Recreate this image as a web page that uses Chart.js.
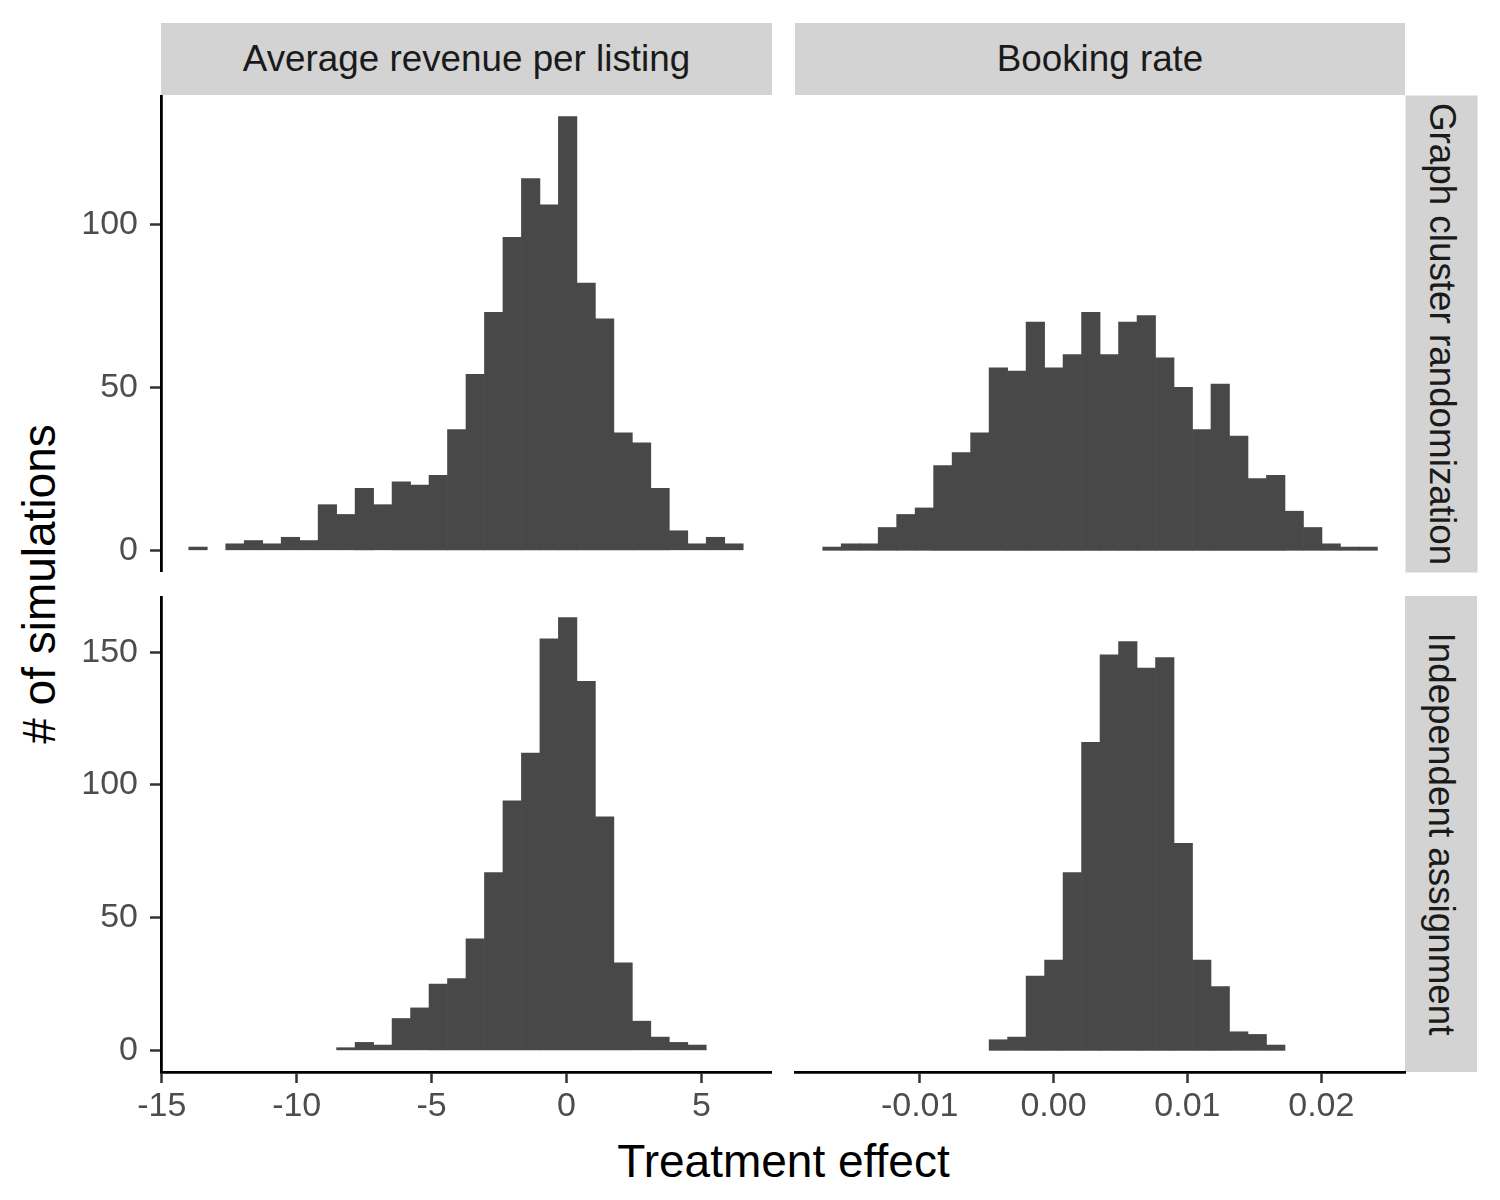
<!DOCTYPE html>
<html>
<head>
<meta charset="utf-8">
<script src="https://cdn.jsdelivr.net/npm/chart.js@4.4.1/dist/chart.umd.min.js"></script>
<style>
  html, body { margin: 0; padding: 0; background: #fff; }
  body { width: 1500px; height: 1200px; position: relative; overflow: hidden;
         font-family: "Liberation Sans", Arial, Helvetica, sans-serif; }
  canvas { position: absolute; }
  .strip { position: absolute; background: #d3d3d3; color: #1a1a1a; font-size: 36.8px; line-height: 36px;
           display: flex; align-items: center; justify-content: center; white-space: nowrap; }
  .title { position: absolute; color: #000; font-size: 46px; line-height: 46px;
           display: flex; align-items: center; justify-content: center; white-space: nowrap; }
</style>
</head>
<body>

<div class="strip" style="left:161px; top:23px; width:611px; height:72px;">Average revenue per listing</div>
<div class="strip" style="left:795px; top:23px; width:610px; height:72px;">Booking rate</div>
<div class="strip" style="left:1202.5px; top:297.5px; width:477px; height:72px; transform:rotate(90deg);">Graph cluster randomization</div>
<div class="strip" style="left:1203px; top:798px; width:476px; height:72px; transform:rotate(90deg);">Independent assignment</div>

<div class="title" style="left:383.5px; top:1137.5px; width:800px; height:46px;">Treatment effect</div>
<div class="title" style="left:-261.5px; top:561px; width:600px; height:46px; transform:rotate(-90deg);"># of simulations</div>

<canvas id="tl" width="775" height="477" style="left:0px; top:95px;"></canvas>
<canvas id="tr" width="635" height="477" style="left:775px; top:95px;"></canvas>
<canvas id="bl" width="775" height="538" style="left:0px; top:596px;"></canvas>
<canvas id="br" width="635" height="538" style="left:775px; top:596px;"></canvas>

<script>
// histogram bins: 30 bins per column, counts
const revenueBinStart = -14.0;
const revenueBinWidth = 0.685;
const bookingBinStart = -0.01724;
const bookingBinWidth = 0.001381;

const revenueCluster = [1, 0, 2, 3, 2, 4, 3, 14, 11, 19, 14, 21, 20, 23, 37,
                        54, 73, 96, 114, 106, 133, 82, 71, 36, 33, 19, 6, 2, 4, 2];
const revenueIndependent = [0, 0, 0, 0, 0, 0, 0, 0, 1, 3, 2, 12, 16, 25, 27,
                            42, 67, 94, 112, 155, 163, 139, 88, 33, 11, 5, 3, 2, 0, 0];
const bookingCluster = [1, 2, 2, 7, 11, 13, 26, 30, 36, 56, 55, 70, 56, 60, 73,
                        60, 70, 72, 59, 50, 37, 51, 35, 22, 23, 12, 7, 2, 1, 1];
const bookingIndependent = [0, 0, 0, 0, 0, 0, 0, 0, 0, 4, 5, 28, 34, 67, 116,
                            149, 154, 144, 148, 78, 34, 24, 7, 6, 2, 0, 0, 0, 0, 0];

const revenueTicks = [-15, -10, -5, 0, 5];
const bookingTicks = [-0.01, 0, 0.01, 0.02];
const clusterCountTicks = [0, 50, 100];
const independentCountTicks = [0, 50, 100, 150];

const revenueLimits = [-15.03, 7.58];
const bookingLimits = [-0.01931, 0.02625];
const clusterCountLimits = [-6.65, 139.65];
const independentCountLimits = [-8.15, 171.15];

const barColor = '#484848';
const tickText = '#4d4d4d';
const fontFamily = '"Liberation Sans", Arial, Helvetica, sans-serif';

function toPoints(counts, start, width) {
  const pts = [];
  counts.forEach((c, i) => {
    if (c > 0) pts.push({ x: start + (i + 0.5) * width, y: c });
  });
  return pts;
}

function setTicks(values) {
  return scale => { scale.ticks = values.map(v => ({ value: v })); };
}

function drawPanel(id, cfg) {
  const ctx = document.getElementById(id).getContext('2d');
  return new Chart(ctx, {
    type: 'bar',
    data: {
      datasets: [{
        data: toPoints(cfg.counts, cfg.binStart, cfg.binWidth),
        backgroundColor: barColor,
        borderWidth: 0,
        barPercentage: 1,
        categoryPercentage: 1
      }]
    },
    options: {
      responsive: false,
      animation: false,
      events: [],
      layout: { padding: cfg.padding },
      plugins: { legend: { display: false }, tooltip: { enabled: false } },
      scales: {
        x: {
          type: 'linear',
          display: cfg.showX,
          min: cfg.xLimits[0],
          max: cfg.xLimits[1],
          offset: false,
          afterBuildTicks: setTicks(cfg.xTicks),
          afterFit: s => {
            if (cfg.showX) s.height = 62;
            s.paddingLeft = 0; s.paddingRight = 0;
          },
          border: { display: true, color: '#000', width: 2.8 },
          grid: { display: true, offset: false, drawOnChartArea: false, drawTicks: true,
                  tickLength: 11, tickColor: '#333', tickWidth: 2.5 },
          ticks: {
            autoSkip: false, maxRotation: 0, padding: 3, color: tickText,
            font: { family: fontFamily, size: 34 },
            callback: cfg.xFormat
          }
        },
        y: {
          display: cfg.showY,
          min: cfg.yLimits[0],
          max: cfg.yLimits[1],
          afterBuildTicks: setTicks(cfg.yTicks),
          afterFit: s => {
            if (cfg.showY) s.width = 161;
            s.paddingTop = 0; s.paddingBottom = 0;
          },
          border: { display: true, color: '#000', width: 2.8 },
          grid: { display: true, drawOnChartArea: false, drawTicks: true,
                  tickLength: 11, tickColor: '#333', tickWidth: 2.5 },
          ticks: {
            autoSkip: false, padding: 12, color: tickText,
            font: { family: fontFamily, size: 34 },
            callback: v => String(v)
          }
        }
      }
    }
  });
}

const revenueFormat = v => String(v);
const bookingFormat = v => v.toFixed(2);

drawPanel('tl', {
  counts: revenueCluster, binStart: revenueBinStart, binWidth: revenueBinWidth,
  xTicks: revenueTicks, xLimits: revenueLimits, xFormat: revenueFormat,
  yTicks: clusterCountTicks, yLimits: clusterCountLimits,
  showX: false, showY: true,
  padding: { left: 0, right: 4, top: 0, bottom: 0 }
});
drawPanel('tr', {
  counts: bookingCluster, binStart: bookingBinStart, binWidth: bookingBinWidth,
  xTicks: bookingTicks, xLimits: bookingLimits, xFormat: bookingFormat,
  yTicks: clusterCountTicks, yLimits: clusterCountLimits,
  showX: false, showY: false,
  padding: { left: 20, right: 5, top: 0, bottom: 0 }
});
drawPanel('bl', {
  counts: revenueIndependent, binStart: revenueBinStart, binWidth: revenueBinWidth,
  xTicks: revenueTicks, xLimits: revenueLimits, xFormat: revenueFormat,
  yTicks: independentCountTicks, yLimits: independentCountLimits,
  showX: true, showY: true,
  padding: { left: 0, right: 4, top: 0, bottom: 0 }
});
drawPanel('br', {
  counts: bookingIndependent, binStart: bookingBinStart, binWidth: bookingBinWidth,
  xTicks: bookingTicks, xLimits: bookingLimits, xFormat: bookingFormat,
  yTicks: independentCountTicks, yLimits: independentCountLimits,
  showX: true, showY: false,
  padding: { left: 20, right: 5, top: 0, bottom: 0 }
});
</script>
</body>
</html>
